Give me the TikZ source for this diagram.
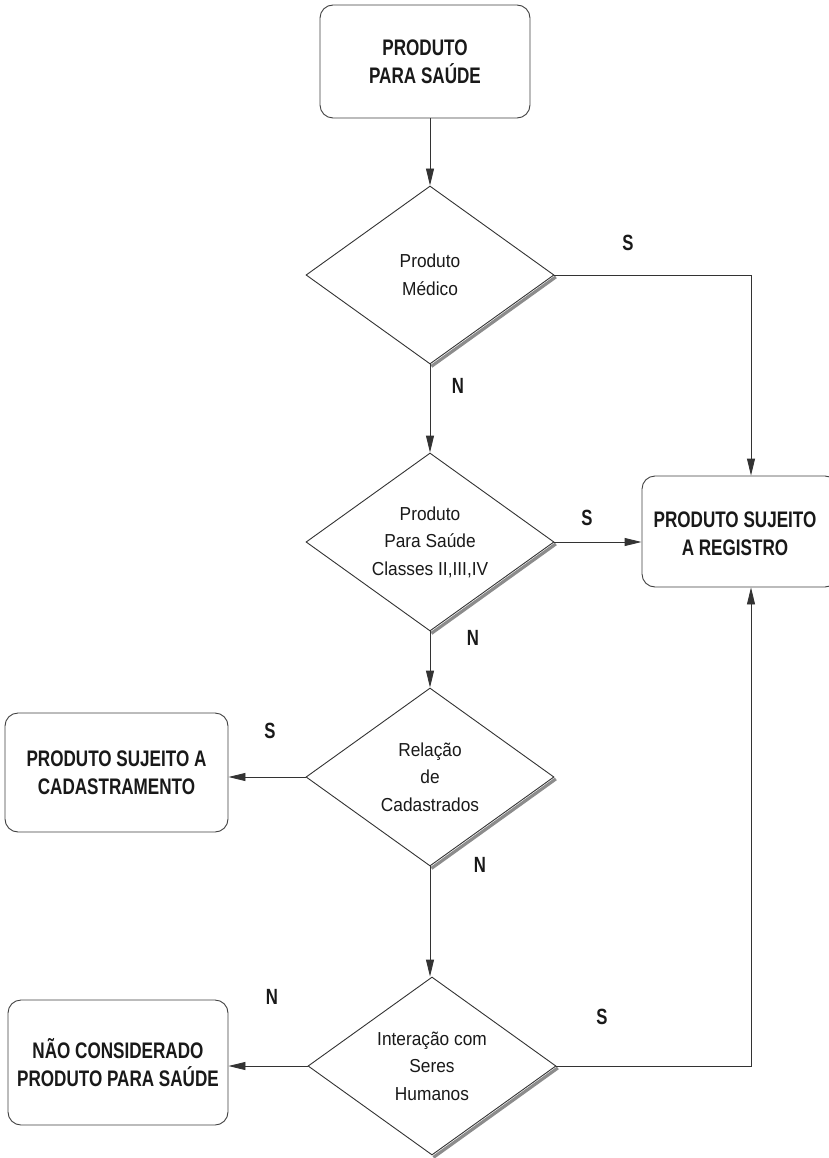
\documentclass[tikz,border=0pt]{standalone}
\usepackage{fontspec}
\setmainfont{Liberation Sans}
\newfontfamily\narrowr{Liberation Sans}[FakeStretch=0.92]
\newfontfamily\narrowb{Liberation Sans Bold}[FakeStretch=0.76]
\usetikzlibrary{shapes.geometric,arrows.meta,calc}
\begin{document}
\begin{tikzpicture}[x=1pt,y=-1pt,
  ln/.style={draw=black!80, line width=0.9pt},
  arr/.style={ln, -{Triangle[length=17pt,width=8pt]}},
  termbox/.style={draw=black!75, line width=0.9pt, rounded corners=13pt, fill=white,
    align=center, font=\narrowb\fontsize{22.5}{28}\selectfont, inner sep=0pt, text=black!90},
  boxtext/.style={align=center, font=\narrowb\fontsize{22.5}{28}\selectfont, inner sep=0pt, text=black!90},
  decision/.style={diamond, draw=black!80, line width=0.9pt, fill=white, aspect=1.38,
    minimum width=248pt, minimum height=178pt, inner sep=0pt, align=center,
    font=\narrowr\fontsize{18.8}{27.5}\selectfont, text=black!90},
  yn/.style={font=\narrowb\fontsize{22}{24}\selectfont, inner sep=0pt, text=black!90},
  shade/.style={draw=black!45, line width=3.2pt}
]
\useasboundingbox (0,0) rectangle (829,1158);

% boxes
\node[termbox, minimum width=210pt, minimum height=113pt] (start) at (425,61.5) {PRODUTO\\PARA SAÚDE};
\node[termbox, minimum width=196pt, minimum height=111pt] (reg) at (740,531.5) {};
\node[boxtext] (regtxt) at (735,534) {PRODUTO SUJEITO\\A REGISTRO};
\node[termbox, minimum width=223pt, minimum height=119pt] (cad) at (116.5,772.5) {PRODUTO SUJEITO A\\CADASTRAMENTO};
\node[termbox, minimum width=220pt, minimum height=125pt] (nao) at (118,1062.5) {NÃO CONSIDERADO\\PRODUTO PARA SAÚDE};

% decisions
\node[decision] (d1) at (430,275) {Produto\\Médico};
\node[decision] (d2) at (430,542) {Produto\\Para Saúde\\Classes II,III,IV};
\node[decision] (d3) at (430,777) {Relação\\de\\Cadastrados};
\node[decision] (d4) at (432,1066) {Interação com\\Seres\\Humanos};

\foreach \d in {d1,d2,d3,d4}{
  \draw[shade] ([shift={(1.4,1.9)}]\d.east) -- ([shift={(1.4,1.9)}]\d.south);
}

% labels
\node[yn] (s1) at (628,243) {S};
\node[yn] (n1) at (458,386) {N};
\node[yn] (s2) at (587,518) {S};
\node[yn] (n2) at (473,638) {N};
\node[yn] (s3) at (270,731) {S};
\node[yn] (n3) at (480,865) {N};
\node[yn] (n4) at (272,997) {N};
\node[yn] (s4) at (602,1017) {S};

% connectors
\coordinate (rx) at (751,0);
\draw[arr] (d1.north |- start.south) -- (d1.north);
\draw[arr] (d1.south) -- (d2.north);
\draw[arr] (d2.south) -- (d3.north);
\draw[arr] (d3.south) -- (d3.south |- d4.north);
\draw[arr] (d1.east) -- (d1.east -| rx) -- (rx |- reg.north);
\draw[arr] (d2.east) -- (reg.west |- d2.east);
\draw[arr] (d4.east) -- (d4.east -| rx) -- (rx |- reg.south);
\draw[arr] (d3.west) -- (cad.east |- d3.west);
\draw[arr] (d4.west) -- (nao.east |- d4.west);
\end{tikzpicture}
\end{document}
